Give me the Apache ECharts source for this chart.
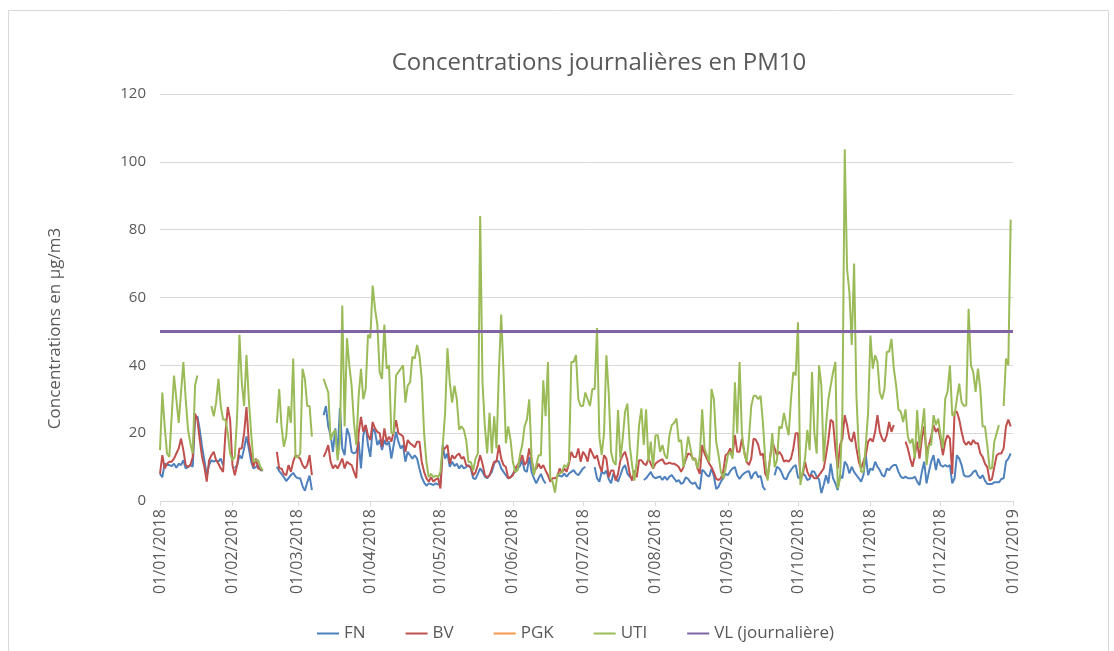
<!DOCTYPE html>
<html>
<head>
<meta charset="utf-8">
<title>Concentrations journalières en PM10</title>
<script src="https://cdn.jsdelivr.net/npm/echarts@6/dist/echarts.min.js"></script>
<style>
  html, body { margin: 0; padding: 0; background: #fff; }
  #chart { width: 1114px; height: 651px; }
</style>
</head>
<body>
<div id="chart"></div>
<script>
// axe des jours : 01/01/2018 -> 01/01/2019
const firstDay = Date.UTC(2018, 0, 1)
const nbDays = 366
const pad = n => (n < 10 ? '0' : '') + n
const dates = []
for (let i = 0; i < nbDays; i++) {
  const d = new Date(firstDay + i * 86400000)
  dates.push(pad(d.getUTCDate()) + '/' + pad(d.getUTCMonth() + 1) + '/' + d.getUTCFullYear())
}

// FN (µg/m3), un mois par ligne
const fn = [
  8, 7, 11, 10.6, 10.6, 10.3, 11, 9.8, 11, 10.6, 12, 9.6, 10, 10.6, 10.1, 24, 25, 21, 16, 12, 7.6, 10.6, 12, 11.6, 12, 11.6, 12.5, 10.6, null, null, null,
  null, 9.6, 10.6, 13.5, 12.5, 15.5, 19, 15.5, 11.6, 9.6, 10, 10.6, 9.1, 9, null, null, null, null, null, 10.1, 8.8, 8, 7, 5.9, 6.7, 7.6, 8.3, 7.2,
  6.7, 6.7, 4.4, 3, 5.5, 7.5, 3.2, null, null, null, null, 25.3, 28, 22, 19.4, 14.5, 21.4, 14, 27.5, 15.5, 13.5, 21.4, 19.4, 14.5, 14, 14.5, 17.5, 9.6, 19.4, 22.4, 16.5,
  13, 21.4, 20.4, 16.5, 18, 15, 18, 16.5, 17.5, 12.5, 16.5, 20.4, 17.5, 15.5, 16.5, 11.6, 14.5, 13.5, 12.5, 13.5, 12.5, 9.6, 7, 5.5, 4.5, 5.2, 5, 4.7, 5.2, 4.8,
  5.2, 16.5, 12.5, 14, 10.1, 11.6, 10.3, 11, 9.6, 10.6, 9.6, 10, 10.6, 9.6, 6.7, 6.5, 8, 9.6, 8.6, 7.2, 6.7, 7.6, 8.6, 11, 12, 11.6, 9.6, 8.6, 7.6, 6.7, 7,
  8, 8.6, 9.6, 10.3, 12, 9, 8.6, 13, 8.6, 6.7, 5.2, 6.7, 8, 6.2, 5.2, null, null, null, null, 7.6, 7.4, 7.2, 8.1, 7.2, 8.1, 8.6, 9.1, 8.1, 7.6, 8.6,
  9.6, 10.1, null, null, null, 10, 6.7, 5.7, 8.6, 8, 9, 6.5, 5.2, 8.1, 6.7, 5.7, 7.6, 9.6, 10.6, 8.1, 7.2, 6.7, null, null, null, null, 6.2, 6.7, 7.6, 8.6, 7.2,
  6.7, 7, 7.2, 6.2, 7.2, 6.2, 7.2, 7.6, 6.7, 5.7, 6.2, 5, 5.5, 7, 6.5, 5.5, 5, 5.5, 4, 3.5, 9.2, 8.6, 7.6, 7.2, 9.6, 7.4, 3.5, 4.2, 5.7, 6.7, 8,
  7.6, 8.8, 9.6, 10, 7.6, 6.5, 7.6, 8.2, 8.6, 8.8, 6.5, 8, 8.6, 7, 7.4, 4.2, 3.2, null, null, null, 7.6, 10.1, 9.6, 8.4, 6.7, 6.4, 8.1, 9.1, 10.1, 10.6,
  7, 6.5, 8.1, 7.6, 6.2, 6.5, 8.8, 8.6, 7.2, 6.4, 2.3, 4.7, 7.6, 5.2, 11, 6.7, 5.2, 3.2, 7.6, 6.7, 11.6, 10.6, 8.1, 10.1, 8.6, 7.6, 6.7, 5.7, 7.6, 13.5, 7.6,
  9.6, 9.1, 11.6, 10.1, 9.1, 7.6, 7.2, 9.6, 9.1, 10.1, 10.6, 10.6, 8.6, 7.2, 6.7, 7.2, 6.7, 6.7, 6.7, 7.2, 5.7, 4.7, 8.6, 11.6, 5.2, 8.6, 11.6, 13.5, 9.1, 12.5,
  10.6, 10.1, 10.6, 10.1, 10.6, 5.2, 6.7, 13.5, 12.5, 10.6, 7.6, 7.2, 7.2, 7.6, 8.6, 9, 7.5, 6.7, 7.6, 6, 5, 5, 5, 5.5, 5.5, 5.5, 6.5, 6.7, 11.6, 12.5, 14
]

// BV
const bv = [
  8, 13.5, 9.6, 11, 11.6, 11.6, 12.5, 14, 15.5, 18.4, 15, 10.6, 10, 10.6, 13, 25.8, 24, 18, 13, 10, 5.7, 12, 13.5, 14.5, 12, 11, 9.6, 8.6, 20, 27.7, 24,
  10.6, 7.6, 10.6, 15.5, 15.5, 20, 27.7, 17.5, 13.5, 10, 12.5, 9.6, 9.4, 9, null, null, null, null, null, 14.5, 9.6, 9.6, 8, 7.6, 10.6, 8.6, 11.6, 13.5,
  13, 12.5, 10.6, 9.6, 10.6, 13.5, 7.6, null, null, null, null, 13, 14.5, 16.5, 11.6, 9.6, 10.6, 9.6, 11, 12.5, 9.6, 11.6, 11, 10.6, 8.6, 6.7, 20, 24.8, 20.4, 22.4, 19.4,
  18, 23.3, 21.4, 20.4, 20, 16, 21.4, 17.5, 19, 17.5, 20.4, 23.8, 20, 19.6, 19, 14.5, 18, 17, 16.5, 15.8, 17.5, 17.5, 11.6, 8.6, 6.7, 5.7, 7, 5.7, 6.4, 6.7,
  3.7, 15.5, 15.5, 16.5, 11, 13.5, 12.5, 13.5, 14, 12.5, 13, 10.6, 10.3, 10, 7.6, 8.4, 10.6, 13.5, 11, 7.6, 7, 7.5, 9.6, 11.6, 11.6, 16.5, 12.5, 10.6, 10, 6.7, 7,
  7.6, 9.6, 10.6, 11.6, 13.5, 10.6, 11.6, 15.5, 12, 9, 9.6, 11, 9.6, 10.6, 9, 7.6, 5.7, 6.7, 6.7, 7.2, 9.6, 8.3, 9.6, 8.6, 11, 14.5, 13, 13, 15.5, 11.6,
  14.5, 13.5, 11.6, 15.5, 14, 12.5, 13.5, 10.6, 8.6, 13.5, 12.5, 7, 9, 9, 6, 8, 12, 13.5, 14.5, 12, 8, 6, 9, 7, 12, 12, 11, 10.6, 12.5, 11, 9.6,
  11, 11.6, 12, 12.3, 11, 11, 11.3, 11, 11, 10.6, 10, 8.6, 10, 12.3, 14, 13.8, 12.5, 12.5, 9.6, 8, 16.5, 14, 12.5, 11, 10, 8.4, 6.5, 6.2, 6.7, 8.6, 13.5,
  14, 15.5, 13.5, 19.4, 14.5, 14.5, 18.4, 14.5, 11.6, 10.6, 12.5, 18.4, 18, 16.5, 13.5, 14, 8, 6.7, 12.5, 17.5, 15.5, 13.5, 14.5, 13.5, 11.6, 12, 11.6, 12.5, 15.5, 20,
  20, 6.7, 7.6, 11.6, 8.6, 7.2, 7.6, 6.7, 6.7, 7.6, 8.6, 9.6, 13.5, 18, 24, 23.3, 15.5, 9.6, 16.5, 18.4, 25.3, 22.4, 18.4, 17.5, 20.4, 15.5, 11.6, 9.6, 11.6, 13.5, 17.5,
  18.4, 17.5, 20.4, 25.3, 20.4, 18.4, 17.5, 19.4, 23.3, 20.4, 22.4, null, null, null, null, 17.5, 15.5, 12.5, 10.1, 13.5, 17.5, 12.5, 18.4, 22, 14, 16.5, 19, 22.4, 20.4, 21.4,
  18, 13.5, 17.5, 19.4, 18.4, 8, 26.3, 26.3, 24, 20.4, 17.5, 16.5, 17.5, 16.5, 18, 17, 17, 14, 13, 11, 10, 6, 6.5, 10, 13.5, 14, 14, 15.5, 22, 24, 22
]

// PGK : pas de mesure sur la période
const pgk = []

// UTI
const uti = [
  15, 32, 22, 14, 13, 25, 37, 30, 23, 32, 41, 30, 21, 17, 14, 34, 37, null, null, null, null, null, 28, 25, 29, 36, 28, 24, 24, 20, 14,
  12, 13, 25, 49, 35, 28, 43, 30, 20, 11.5, 12, 12, 10, 9, null, null, null, null, null, 23, 33, 22, 16, 19, 28, 23, 42, 13,
  13, 14, 39, 36, 28, 28, 19, null, null, null, null, 36, 34, 32, 18, 20, 21, 12, 18, 57.6, 22, 48, 40, 34, 23, 16.5, 31, 39, 30, 33, 49,
  48, 63.5, 56.7, 52, 38, 36, 52, 39, 40, 20, 20, 37, 38, 39, 40, 29, 34, 35, 42.5, 42, 46, 43, 36, 20, 11.5, 7, 8, 7, 7.5, 7,
  8.6, 16.5, 26, 45, 35, 29, 34, 30, 21, 22, 21, 18, 11.5, 11.5, 9, 12.5, 14, 84, 35, 22, 14, 26, 14, 25, 15.5, 38, 55, 38, 17, 22, 18,
  11.5, 8.6, 9, 13.5, 16.5, 22, 24, 30, 13, 7.6, 10.6, 13.5, 13.5, 35.6, 25, 41, 6.7, 5.7, 2.5, 7.6, 8, 8.6, 10.6, 10, 11.6, 41, 41, 43, 30, 28,
  28, 32, 30, 28, 33, 33, 51, 19, 13.5, 20, 43, 32, 14.5, 11.6, 10.6, 26.8, 12.5, 18.4, 26.3, 28.7, 16.5, 10.6, 6, 11.6, 22.4, 27.3, 16.5, 27, 11.6, 17.5, 9.6,
  19.4, 19.4, 14.5, 16.5, 13.5, 12.5, 19.4, 22.4, 23, 24.3, 17.5, 18, 10, 13.5, 19, 15.5, 12, 12.5, 9.6, 13.5, 27, 15.5, 13.5, 11.6, 33, 30, 17.5, 13.5, 8.6, 6.7, 9.6,
  13.5, 14.5, 12.5, 35, 20, 41, 20, 14, 11.6, 18.4, 28, 31, 31, 30, 31, 23, 12, 6, 12, 20, 10, 12, 22, 21.4, 26, 22.4, 19.4, 30, 38, 37,
  52.7, 4.7, 8.6, 12.5, 21, 15, 38, 20, 14, 40, 34, 11.6, 22.4, 30, 34, 38, 41, 3.7, 6.7, 26, 103.7, 68.4, 61.6, 46, 70, 31, 15.5, 8.6, 8.6, 16.5, 26,
  48.8, 39, 43, 41, 32, 30, 33, 44, 44, 47.8, 39, 34, 27, 26.3, 23.3, 27, 19, 17, 18.4, 12.5, 26.8, 15.5, 21.4, 27.3, 10.6, 16.5, 16.5, 25.3, 22.4, 24.3,
  19.4, 15.5, 30.2, 32.2, 40, 25.3, 25.3, 30.2, 34.6, 29.2, 28, 28.2, 56.7, 40, 38, 32.2, 39, 33, 22, 22, 16.5, 9.6, 9.6, 17.5, 20, 22.4, null, 28, 42, 40, 83
]

// valeur limite journalière
const vlLimit = 50
const vl = dates.map(() => vlLimit)

const yTicks = { min: 0, max: 120, interval: 20 }

const textColor = '#595959'
const gridColor = '#d9d9d9'
const isMonthStart = (idx, val) => val.slice(0, 3) === '01/'

const chart = echarts.init(document.getElementById('chart'))

function lineSerie(name, data, color, width) {
  return {
    name: name,
    type: 'line',
    data: data,
    symbol: 'none',
    showSymbol: false,
    connectNulls: false,
    animation: false,
    lineStyle: { color: color, width: width },
    itemStyle: { color: color }
  }
}

chart.setOption({
  backgroundColor: '#fff',
  textStyle: { fontFamily: 'Open Sans, sans-serif' },
  title: {
    text: 'Concentrations journalières en PM10',
    left: 594,
    top: 46,
    textAlign: 'center',
    textStyle: { color: textColor, fontSize: 24, fontWeight: 'normal' }
  },
  graphic: [{
    type: 'rect',
    shape: { x: 8.5, y: 10.5, width: 1100, height: 650 },
    style: { fill: 'none', stroke: '#d9d9d9', lineWidth: 1 },
    silent: true
  }],
  grid: { left: 160, right: 101, top: 94, bottom: 150 },
  legend: {
    top: 620,
    left: 312,
    icon: 'rect',
    itemWidth: 22,
    itemHeight: 2,
    itemGap: 40,
    textStyle: { color: textColor, fontSize: 17 },
    data: ['FN', 'BV', 'PGK', 'UTI', 'VL (journalière)']
  },
  xAxis: {
    type: 'category',
    data: dates,
    boundaryGap: false,
    axisLine: { lineStyle: { color: gridColor } },
    axisTick: { interval: isMonthStart, length: 5, lineStyle: { color: gridColor } },
    axisLabel: {
      interval: isMonthStart,
      rotate: 90,
      color: textColor,
      fontSize: 16,
      margin: 8
    },
    splitLine: { show: false }
  },
  yAxis: {
    type: 'value',
    min: yTicks.min,
    max: yTicks.max,
    interval: yTicks.interval,
    name: 'Concentrations en µg/m3',
    nameLocation: 'middle',
    nameGap: 96,
    nameTextStyle: { color: textColor, fontSize: 17, padding: [0, 62, 0, 0] },
    axisLine: { show: false },
    axisTick: { show: false },
    axisLabel: { color: textColor, fontSize: 15, margin: 14 },
    splitLine: { lineStyle: { color: gridColor, width: 1 } }
  },
  series: [
    lineSerie('FN', fn, '#4F81BD', 2),
    lineSerie('BV', bv, '#C0504D', 2),
    lineSerie('PGK', pgk, '#F79646', 2),
    lineSerie('UTI', uti, '#9BBB59', 2),
    lineSerie('VL (journalière)', vl, '#8064A2', 3)
  ]
})
</script>
</body>
</html>
